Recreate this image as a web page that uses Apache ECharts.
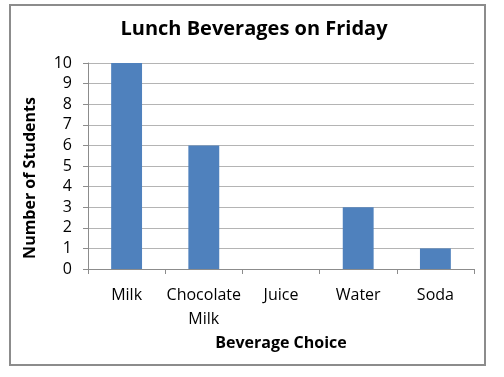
<!DOCTYPE html>
<html>
<head>
<meta charset="utf-8">
<script src="https://cdn.jsdelivr.net/npm/echarts@6/dist/echarts.min.js"></script>
<style>
  html, body { margin: 0; padding: 0; background: #fff; }
  #frame { position: absolute; left: 9px; top: 4px; width: 477px; height: 362px; border: 2px solid #8c8c8c; box-sizing: border-box; }
  #chart { width: 504px; height: 377px; position: absolute; left: 0; top: 0; }
</style>
</head>
<body>
<div id="frame"></div>
<div id="chart"></div>
<script>
  // values
  const categories = ['Milk', 'Chocolate\nMilk', 'Juice', 'Water', 'Soda'];
  const students = [10, 6, 0, 3, 1];

  const font = '"Open Sans", sans-serif';
  const myChart = echarts.init(document.getElementById('chart'));
  const option = {
    backgroundColor: 'transparent',
    animation: false,
    title: {
      text: 'Lunch Beverages on Friday',
      left: 249,
      top: 14,
      textAlign: 'center',
      textStyle: { fontFamily: font, fontSize: 20, fontWeight: 'bold', color: '#000' }
    },
    grid: { left: 88, right: 30, top: 63, bottom: 108 },
    xAxis: {
      type: 'category',
      data: categories,
      name: 'Beverage Choice',
      nameLocation: 'middle',
      nameGap: 66,
      nameTextStyle: { fontFamily: font, fontSize: 16, fontWeight: 'bold', color: '#000' },
      axisLine: { lineStyle: { color: '#8c8c8c' } },
      axisTick: { show: true, length: 5, lineStyle: { color: '#8c8c8c' } },
      axisLabel: { interval: 0, fontFamily: font, fontSize: 16, color: '#000', margin: 14, lineHeight: 24 }
    },
    yAxis: {
      type: 'value',
      min: 0,
      max: 10,
      interval: 1,
      name: 'Number of Students',
      nameLocation: 'middle',
      nameGap: 50,
      nameTextStyle: { fontFamily: font, fontSize: 16, fontWeight: 'bold', color: '#000', padding: [0, 24, 0, 0] },
      axisLine: { show: true, lineStyle: { color: '#8c8c8c' } },
      axisTick: { show: true, length: 5, lineStyle: { color: '#8c8c8c' } },
      axisLabel: { fontFamily: font, fontSize: 16, color: '#000', margin: 16 },
      splitLine: { lineStyle: { color: '#b4b4b4' } }
    },
    series: [{
      type: 'bar',
      data: students,
      barWidth: '40%',
      itemStyle: { color: '#4f81bd' }
    }]
  };
  myChart.setOption(option, true);
</script>
</body>
</html>
